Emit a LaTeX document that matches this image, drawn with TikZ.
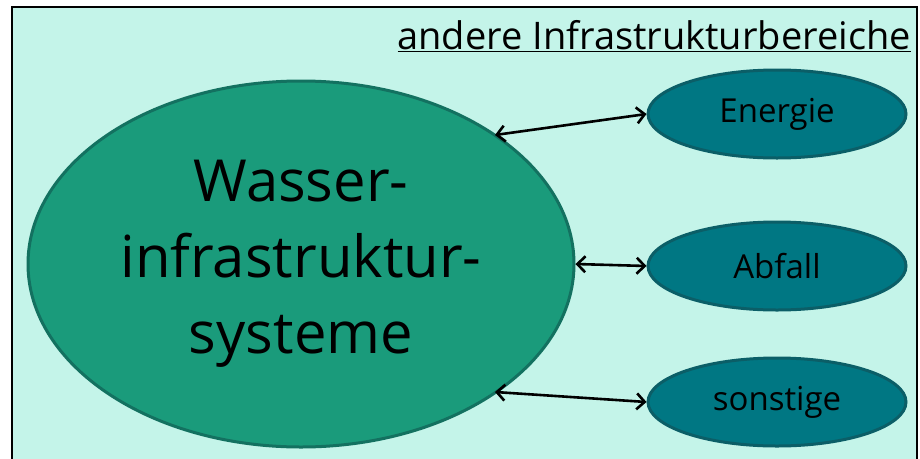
\documentclass[tikz,border=0pt]{standalone}
\usepackage{fontspec}
\setmainfont{Open Sans}
\usetikzlibrary{shapes.geometric,arrows.meta}
\definecolor{bgmint}{HTML}{C4F4E9}
\definecolor{bigfill}{HTML}{1A9B7B}
\definecolor{bigdraw}{HTML}{137160}
\definecolor{smallfill}{HTML}{007783}
\definecolor{smalldraw}{HTML}{0B5E67}
\tikzset{
  bigell/.style={ellipse, fill=bigfill, draw=bigdraw, line width=3pt, minimum width=546pt, minimum height=366pt, inner sep=0pt, align=center, font=\fontsize{58}{76}\selectfont},
  smallell/.style={ellipse, fill=smallfill, draw=smalldraw, line width=3pt, minimum width=258pt, minimum height=88pt, inner sep=0pt, font=\fontsize{33}{38}\selectfont},
  conn/.style={{Straight Barb[length=8pt,width=16pt]}-{Straight Barb[length=8pt,width=16pt]}, line width=2.6pt}
}
\begin{document}
\begin{tikzpicture}[x=1pt,y=-1pt]
\useasboundingbox (0,0) rectangle (920,458);
\fill[white] (0,0) rectangle (920,458);
\fill[bgmint] (12,7) rectangle (917,470);
\draw[line width=2pt] (12,470) -- (12,7) -- (917,7) -- (917,470);
\node[anchor=base east, inner sep=0pt, font=\fontsize{38}{40}\selectfont] (title) at (911,49) {\underline{andere Infrastrukturbereiche}};
\node[bigell] (wasser) at (301,264) {Wasser-\\infrastruktur-\\systeme};
\node[smallell] (energie) at (777,114) {Energie};
\node[smallell] (abfall) at (777,266) {Abfall};
\node[smallell] (sonst) at (777,402) {sonstige};
\coordinate (w1) at (495,135);
\coordinate (w3) at (495,392);
\draw[conn] (w1) -- (energie.west);
\draw[conn] (wasser.east) -- (abfall.west);
\draw[conn] (w3) -- (sonst.west);
\end{tikzpicture}
\end{document}
